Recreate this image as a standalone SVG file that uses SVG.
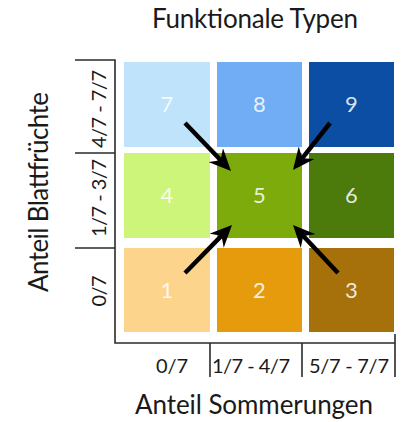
<svg xmlns="http://www.w3.org/2000/svg" width="405" height="422" viewBox="0 0 405 422">
  <style>
    .lbl { font-family: "Lato", "Open Sans", "Liberation Sans", sans-serif; fill: #1a1a1a; }
    .title { font-size: 26px; text-anchor: middle; }
    .tick { font-size: 20px; text-anchor: middle; }
    .num { font-family: "Lato", "Open Sans", "Liberation Sans", sans-serif; font-size: 22px; fill: #ffffff; fill-opacity: 0.85; text-anchor: middle; }
    .axis { fill: none; stroke: #2b2b2b; stroke-width: 1.6; }
    .arrow { stroke: #000000; stroke-width: 4.5; fill: none; marker-end: url(#head); }
  </style>
  <defs>
    <marker id="head" viewBox="0 0 22 20" refX="10" refY="10" markerWidth="22" markerHeight="20" markerUnits="userSpaceOnUse" orient="auto">
      <path d="M0,0 L22,10 L0,20 L7,10 z" fill="#000000"/>
    </marker>
  </defs>

  <rect width="405" height="422" fill="#ffffff"/>

  <!-- titles -->
  <text class="lbl title" x="255" y="28" textLength="206">Funktionale Typen</text>
  <text class="lbl title" x="254" y="414" textLength="238">Anteil Sommerungen</text>
  <text class="lbl title" transform="translate(48,192) rotate(-90)" x="0" y="0" textLength="200">Anteil Blattfrüchte</text>

  <!-- axes and tick marks -->
  <g id="axes">
    <path class="axis" d="M75,60 H115 V343 H395 M75,153 H115 M75,248 H115 M210,343 V377 M302,343 V377 M395,334 V377"/>
    <text class="lbl tick" x="172" y="373" textLength="32">0/7</text>
    <text class="lbl tick" x="251" y="373" textLength="78">1/7 - 4/7</text>
    <text class="lbl tick" x="349" y="373" textLength="80">5/7 - 7/7</text>
    <text class="lbl tick" transform="translate(106,109) rotate(-90)" textLength="78">4/7 - 7/7</text>
    <text class="lbl tick" transform="translate(106,198) rotate(-90)" textLength="78">1/7 - 3/7</text>
    <text class="lbl tick" transform="translate(106,291) rotate(-90)" textLength="31">0/7</text>
  </g>

  <!-- grid of types -->
  <g id="type7"><rect x="124" y="62" width="86" height="85" fill="#bee3fb"/><text class="num" x="167" y="112">7</text></g>
  <g id="type8"><rect x="217" y="62" width="85" height="85" fill="#70adf5"/><text class="num" x="259.5" y="112">8</text></g>
  <g id="type9"><rect x="309" y="62" width="85" height="85" fill="#0c4ea3"/><text class="num" x="351.5" y="112">9</text></g>
  <g id="type4"><rect x="124" y="153" width="86" height="85" fill="#ccf57a"/><text class="num" x="167" y="203">4</text></g>
  <g id="type5"><rect x="217" y="153" width="85" height="85" fill="#7dab0b"/><text class="num" x="259.5" y="203">5</text></g>
  <g id="type6"><rect x="309" y="153" width="85" height="85" fill="#4c7a0b"/><text class="num" x="351.5" y="203">6</text></g>
  <g id="type1"><rect x="124" y="248" width="86" height="84" fill="#fdd48c"/><text class="num" x="167" y="298">1</text></g>
  <g id="type2"><rect x="217" y="248" width="85" height="84" fill="#e59b0c"/><text class="num" x="259.5" y="298">2</text></g>
  <g id="type3"><rect x="309" y="248" width="85" height="84" fill="#a6700b"/><text class="num" x="351.5" y="298">3</text></g>

  <!-- arrows pointing to type 5 -->
  <g id="connectors">
    <line class="arrow" x1="185" y1="123" x2="222.7" y2="162.3"/>
    <line class="arrow" x1="330" y1="123" x2="300.4" y2="160.6"/>
    <line class="arrow" x1="185" y1="273" x2="223.6" y2="233.6"/>
    <line class="arrow" x1="338" y1="273" x2="301.2" y2="233.8"/>
  </g>
</svg>
